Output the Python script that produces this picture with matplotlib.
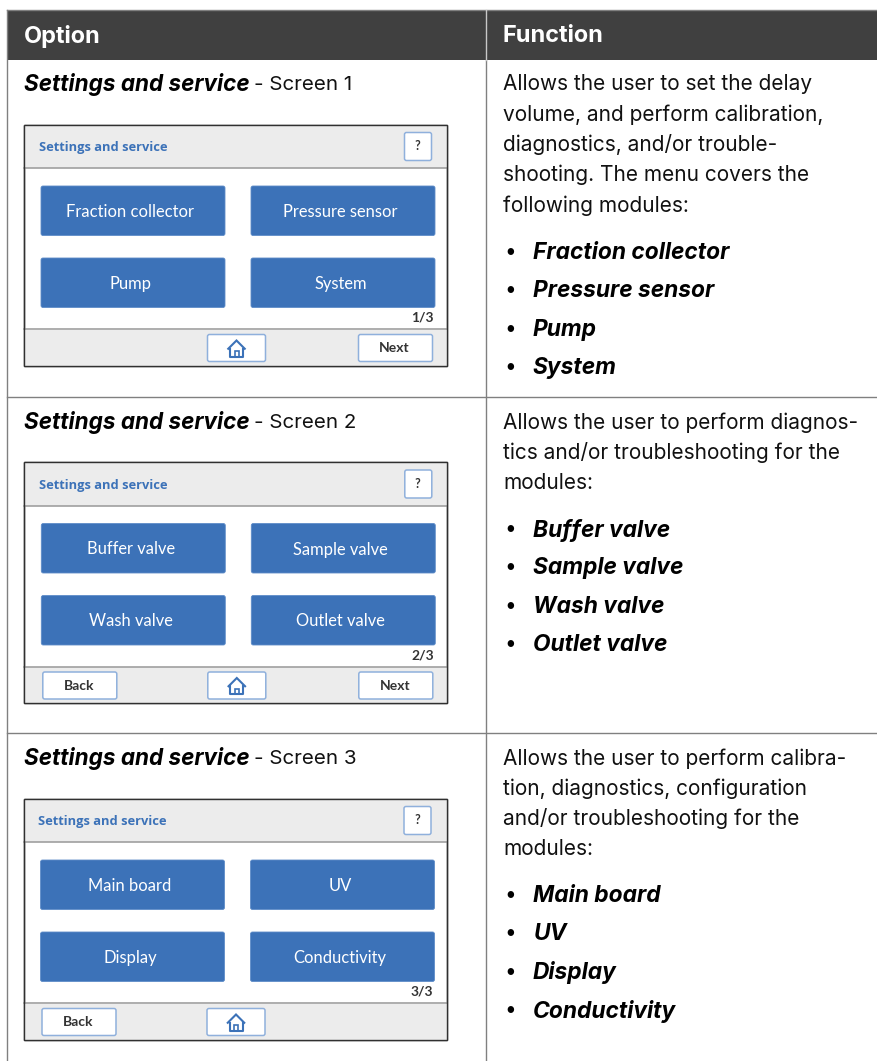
import matplotlib
matplotlib.use("Agg")
import matplotlib.pyplot as plt
from matplotlib.patches import Rectangle, FancyBboxPatch, Polygon

W, H = 877, 1061
HEADERS = ["Option", "Function"]
SCREEN_TITLE = "Settings and service"
SCREEN_SUFFIX = ["- Screen 1", "- Screen 2", "- Screen 3"]
BUTTONS = [["Fraction collector", "Pressure sensor", "Pump", "System"],
           ["Buffer valve", "Sample valve", "Wash valve", "Outlet valve"],
           ["Main board", "UV", "Display", "Conductivity"]]
PAGES = ["1/3", "2/3", "3/3"]
HAS_BACK = [False, True, True]
HAS_NEXT = [True, True, False]
DESCRIPTIONS = [
    ["Allows the user to set the delay", "volume, and perform calibration,",
     "diagnostics, and/or trouble-", "shooting. The menu covers the", "following modules:"],
    ["Allows the user to perform diagnos-", "tics and/or troubleshooting for the", "modules:"],
    ["Allows the user to perform calibra-", "tion, diagnostics, configuration",
     "and/or troubleshooting for the", "modules:"],
]
ROW_TOPS = [60, 397, 733]
SCREEN_TOPS = [124.5, 462, 798.5]
SCREEN_DX = [0, 0.3, -0.5]
DESC_FIRST_Y = [84.5, 422.5, 758.5]
BULLET_FIRST_Y = [253, 530, 896]
BULLET_STEP = 38.4

DARK = "#404040"; GRID = "#808080"; BLUE = "#3C72B8"; PANEL = "#ECECEC"
MAIN = "Inter"; UI = "Lato"

fig = plt.figure(figsize=(W / 100, H / 100), dpi=100, facecolor="white")
ax = fig.add_axes([0, 0, 1, 1])
ax.set_xlim(0, W); ax.set_ylim(H, 0); ax.axis("off")


def rrect(x0, y0, x1, y1, fc, ec, lw=1.0, r=2.0, z=3):
    ax.add_patch(FancyBboxPatch((x0 + r, y0 + r), x1 - x0 - 2 * r, y1 - y0 - 2 * r,
                                boxstyle=f"round,pad={r},rounding_size={r}",
                                fc=fc, ec=ec, lw=lw, zorder=z))


def home(cx, cy):
    ax.add_patch(Polygon([(cx - 9, cy + 1), (cx, cy - 8), (cx + 9, cy + 1)], closed=False,
                         fill=False, ec=BLUE, lw=1.5, zorder=5))
    ax.plot([cx - 6.5, cx - 6.5, cx + 6.5, cx + 6.5], [cy, cy + 8, cy + 8, cy], color=BLUE, lw=1.5, zorder=5)
    ax.add_patch(Rectangle((cx - 2, cy + 2.5), 4, 5.5, fill=False, ec=BLUE, lw=1.2, zorder=5))


# table
ax.add_patch(Rectangle((7, 9.5), W - 7, 50.5, fc=DARK, ec="none", zorder=1))
ax.plot([7, W], [9.5, 9.5], color=GRID, lw=1, zorder=2)
ax.plot([7, 7], [9.5, H], color=GRID, lw=1, zorder=2)
ax.plot([486, 486], [60, H], color=GRID, lw=1, zorder=2)
ax.plot([486, 486], [9.5, 60], color="#C8C8C8", lw=1, zorder=2)
for y in ROW_TOPS[1:]:
    ax.plot([7, W], [y, y], color=GRID, lw=1, zorder=2)
ax.text(24, 36, HEADERS[0], color="white", fontsize=16.9, fontweight="bold", family=MAIN, va="center")
ax.text(503, 36, HEADERS[1], color="white", fontsize=16.9, fontweight="bold", family=MAIN, va="center")

for i in range(3):
    t = SCREEN_TOPS[i]; dx = SCREEN_DX[i]
    # row heading
    ax.text(24, DESC_FIRST_Y[i], SCREEN_TITLE, fontsize=16.2, fontweight="bold", style="italic",
            family=MAIN, va="center", color="black")
    ax.text(254, DESC_FIRST_Y[i], SCREEN_SUFFIX[i], fontsize=14.8, family=MAIN, va="center", color="#111111")
    # description
    for k, line in enumerate(DESCRIPTIONS[i]):
        ax.text(503, DESC_FIRST_Y[i] + k * 30.2, line, fontsize=15, family=MAIN, va="center", color="#111111")
    for k, name in enumerate(BUTTONS[i]):
        y = BULLET_FIRST_Y[i] + k * BULLET_STEP
        ax.text(504, y - 1, "\u2022", fontsize=15, family=MAIN, va="center", color="black")
        ax.text(533, y, name, fontsize=16.4, fontweight="bold", style="italic", family=MAIN, va="center", color="black")
    # screen panel
    l, r = 24, 447
    b = t + 241
    ax.add_patch(Rectangle((l, t), r - l, b - t, fc="white", ec="#303030", lw=1, zorder=2))
    ax.add_patch(Rectangle((l, t), r - l, 43.5, fc=PANEL, ec="none", zorder=2.1))
    ax.add_patch(Rectangle((l, b - 36), r - l, 36, fc=PANEL, ec="none", zorder=2.1))
    ax.plot([l, r], [t + 43.5] * 2, color="#A0A0A0", lw=1.2, zorder=2.2)
    ax.plot([l, r], [b - 36.5] * 2, color="#A0A0A0", lw=1.2, zorder=2.2)
    ax.add_patch(Rectangle((l, t), r - l, b - t, fc="none", ec="#303030", lw=1, zorder=2.3))
    ax.text(39 + dx, t + 23, SCREEN_TITLE, fontsize=9.3, fontweight="bold", family="Open Sans", color=BLUE, va="center", zorder=4)
    rrect(404.5 + dx, t + 8, 431.5 + dx, t + 36, "white", "#8FB0DC", lw=1.1)
    ax.text(417.5 + dx, t + 21.5, "?", fontsize=9, fontweight="bold", family=UI, color="#333333", ha="center", va="center", zorder=5)
    # buttons
    pos = [(41, 61.5), (251, 61.5), (41, 133.5), (251, 133.5)]
    for (bx, by), name in zip(pos, BUTTONS[i]):
        rrect(bx + dx, t + by, bx + 184 + dx, t + by + 49.5, BLUE, "#5E8CC8", lw=0.6)
        ax.text(bx + 89.5 + dx, t + by + 26, name, fontsize=11.9, family=UI, color="white", ha="center", va="center", zorder=5)
    ax.text(433.5 + dx, t + 193.5, PAGES[i], fontsize=10, fontweight="bold", family=UI, color="#333333", ha="right", va="center", zorder=5)
    # bottom buttons
    by0, by1 = t + 210, t + 237
    if HAS_BACK[i]:
        rrect(42.5 + dx, by0, 116.5 + dx, by1, "white", "#8FB0DC", lw=1.1)
        ax.text(78.5 + dx, t + 223.5, "Back", fontsize=10, fontweight="bold", family=UI, color="#333333", ha="center", va="center", zorder=5)
    rrect(207.5 + dx, by0, 265.5 + dx, by1, "white", "#8FB0DC", lw=1.1)
    home(236.5 + dx, t + 224)
    if HAS_NEXT[i]:
        rrect(358.5 + dx, by0, 432.5 + dx, by1, "white", "#8FB0DC", lw=1.1)
        ax.text(394.5 + dx, t + 223.5, "Next", fontsize=10, fontweight="bold", family=UI, color="#333333", ha="center", va="center", zorder=5)

fig.savefig("out.png", dpi=100, facecolor="white")
